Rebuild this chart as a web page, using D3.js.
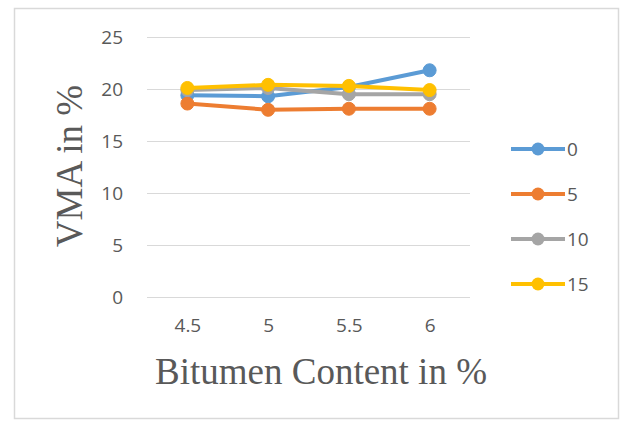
<!DOCTYPE html>
<html>
<head>
<meta charset="utf-8">
<script src="https://cdn.jsdelivr.net/npm/d3@7"></script>
<style>
  html, body { margin: 0; padding: 0; background: #fff; }
  svg { display: block; }
</style>
</head>
<body>
<svg id="chart" width="621" height="424"></svg>
<script>
// Bitumen content (%) on the x axis
const categories = ["4.5", "5", "5.5", "6"];
// VMA (%) for each additive level
const seriesNames = ["0", "5", "10", "15"];
const vma0  = [19.4, 19.3, 20.2, 21.8];
const vma5  = [18.6, 18.0, 18.1, 18.1];
const vma10 = [19.9, 20.1, 19.5, 19.5];
const vma15 = [20.1, 20.4, 20.3, 19.9];
const yTicks = [0, 5, 10, 15, 20, 25];

const colors = ["#5B9BD5", "#ED7D31", "#A5A5A5", "#FFC000"];
const series = [vma0, vma5, vma10, vma15].map((values, i) => ({
  name: seriesNames[i], color: colors[i], values
}));

const svg = d3.select("#chart");

// chart frame
svg.append("rect")
  .attr("x", 14.5).attr("y", 8.5)
  .attr("width", 604).attr("height", 410)
  .attr("fill", "#fff").attr("stroke", "#d9d9d9").attr("stroke-width", 1.5);

const plot = { left: 147, right: 470, top: 37, bottom: 297 };

const x = d3.scalePoint().domain(categories)
  .range([plot.left, plot.right]).padding(0.5);
const y = d3.scaleLinear().domain([0, 25])
  .range([plot.bottom, plot.top]);

const tickFont = "'Open Sans', 'Liberation Sans', sans-serif";

// horizontal gridlines
svg.append("g").selectAll("line").data(yTicks).join("line")
  .attr("x1", plot.left).attr("x2", plot.right)
  .attr("y1", d => Math.round(y(d)) + 0.5).attr("y2", d => Math.round(y(d)) + 0.5)
  .attr("stroke", "#d9d9d9").attr("stroke-width", 1);

// y axis labels
const yAxis = d3.axisLeft(y).tickValues(yTicks).tickSize(0).tickPadding(0);
const gy = svg.append("g").attr("transform", `translate(${plot.left - 24},0)`).call(yAxis);
gy.select(".domain").remove();
gy.selectAll("text")
  .attr("fill", "#595959").attr("font-size", 19).attr("font-family", tickFont);

// x axis labels
const xAxis = d3.axisBottom(x).tickSize(0).tickPadding(0);
const gx = svg.append("g").attr("transform", `translate(0,${plot.bottom + 21})`).call(xAxis);
gx.select(".domain").remove();
gx.selectAll("text")
  .attr("fill", "#595959").attr("font-size", 19).attr("font-family", tickFont);

// series lines and markers
const line = d3.line().x((d, i) => x(categories[i])).y(d => y(d));
const gs = svg.append("g").selectAll("g").data(series).join("g");
gs.append("path")
  .attr("d", d => line(d.values))
  .attr("fill", "none").attr("stroke", d => d.color)
  .attr("stroke-width", 4).attr("stroke-linejoin", "round").attr("stroke-linecap", "round");
gs.selectAll("circle").data(d => d.values.map((v, i) => ({ v, i, color: d.color }))).join("circle")
  .attr("cx", d => x(categories[d.i])).attr("cy", d => y(d.v))
  .attr("r", 6.5).attr("fill", d => d.color).attr("stroke", d => d.color);

// axis titles
const titleFont = "'Liberation Serif', 'Times New Roman', serif";
svg.append("text")
  .attr("transform", "translate(82,166) rotate(-90)")
  .attr("text-anchor", "middle")
  .attr("font-family", titleFont).attr("font-size", 37).attr("fill", "#595959")
  .text("VMA in %");
svg.append("text")
  .attr("x", 321).attr("y", 384)
  .attr("text-anchor", "middle")
  .attr("font-family", titleFont).attr("font-size", 37).attr("fill", "#595959")
  .text("Bitumen Content in %");

// legend
const legend = svg.append("g").selectAll("g").data(series).join("g")
  .attr("transform", (d, i) => `translate(511,${149 + i * 45})`);
legend.append("line")
  .attr("x1", 0).attr("x2", 54).attr("y1", 0).attr("y2", 0)
  .attr("stroke", d => d.color).attr("stroke-width", 4);
legend.append("circle")
  .attr("cx", 27).attr("cy", 0).attr("r", 6.5)
  .attr("fill", d => d.color);
legend.append("text")
  .attr("x", 56).attr("y", 7)
  .attr("font-family", tickFont).attr("font-size", 19).attr("fill", "#595959")
  .text(d => d.name);
</script>
</body>
</html>
